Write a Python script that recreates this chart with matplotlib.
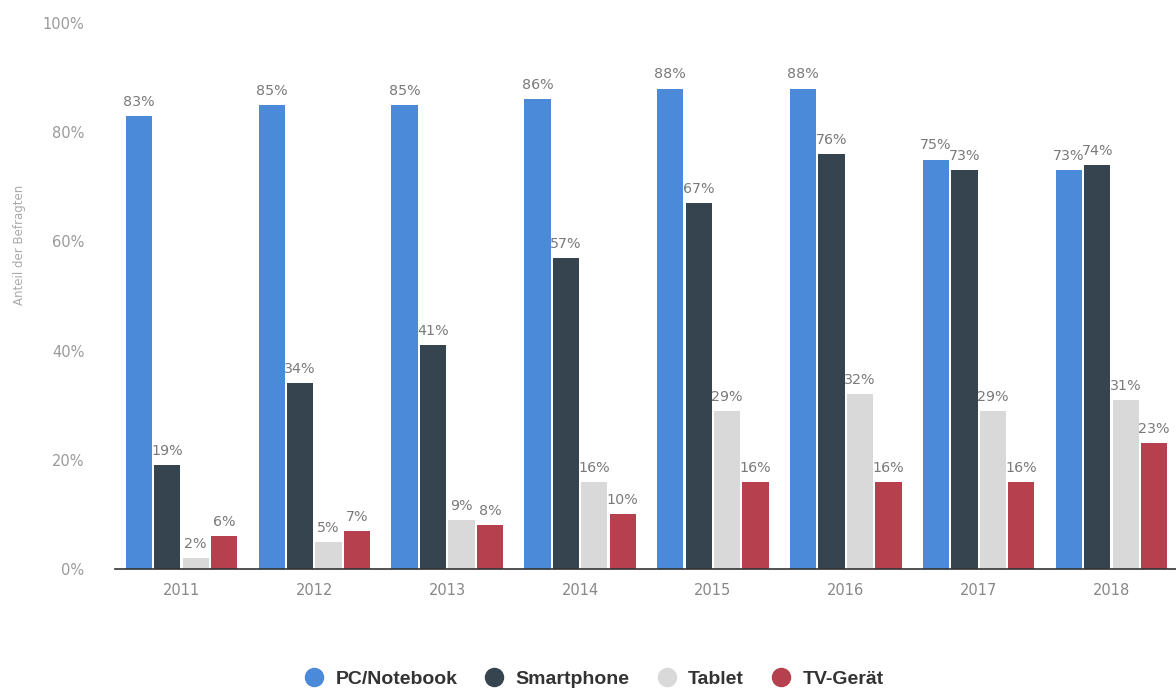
import matplotlib
matplotlib.use("Agg")
import matplotlib.pyplot as plt
from matplotlib.lines import Line2D
import numpy as np

years = ["2011", "2012", "2013", "2014", "2015", "2016", "2017", "2018"]
series_names = ["PC/Notebook", "Smartphone", "Tablet", "TV-Gerät"]
pc = [83, 85, 85, 86, 88, 88, 75, 73]
smartphone = [19, 34, 41, 57, 67, 76, 73, 74]
tablet = [2, 5, 9, 16, 29, 32, 29, 31]
tv = [6, 7, 8, 10, 16, 16, 16, 23]
yticks = [0, 20, 40, 60, 80, 100]

colors = ["#4a8ad9", "#35444f", "#d9d9d9", "#b6404d"]
series = [pc, smartphone, tablet, tv]

fig = plt.figure(figsize=(11.76, 6.91), dpi=100)
ax = fig.add_axes([115/1176, (691-569)/691, 1 - 115/1176, (569-23)/691])

x = np.arange(len(years))
w = 0.198
pitch = 0.214
for i, (vals, c) in enumerate(zip(series, colors)):
    pos = x + (i - 1.5) * pitch
    ax.bar(pos, vals, width=w, color=c, zorder=2)
    for p, v in zip(pos, vals):
        ax.text(p, v + 1.3, f"{v}%", ha="center", va="bottom",
                fontsize=10.3, color="#7a7a7a")

ax.set_xlim(-0.5005, 7.4855)
ax.set_ylim(0, 100)
ax.set_yticks(yticks)
ax.set_yticklabels([f"{t}%" for t in yticks], color="#9a9a9a", fontsize=10.5)
ax.set_xticks(x)
ax.set_xticklabels(years, color="#888888", fontsize=10.5)
ax.tick_params(axis="both", length=0)
ax.tick_params(axis="y", pad=22)
ax.tick_params(axis="x", pad=10)
for s in ["top", "right", "left"]:
    ax.spines[s].set_visible(False)
ax.spines["bottom"].set_color("#333333")
ax.spines["bottom"].set_linewidth(1.2)

fig.text(20/1176, 1 - 245/691, "Anteil der Befragten", rotation=90,
         ha="center", va="center", fontsize=8.5, color="#aaaaaa")

handles = [Line2D([0], [0], marker="o", linestyle="", markersize=13,
                  markerfacecolor=c, markeredgecolor=c) for c in colors]
leg = fig.legend(handles, series_names, loc="center", ncol=4,
                 bbox_to_anchor=(594/1176, 1 - 679/691), frameon=False,
                 handlelength=1.0, handletextpad=0.6, columnspacing=1.4,
                 prop={"family": "Liberation Sans", "weight": "bold", "size": 14})
for t in leg.get_texts():
    t.set_color("#333333")

fig.savefig("out.png", dpi=100)
